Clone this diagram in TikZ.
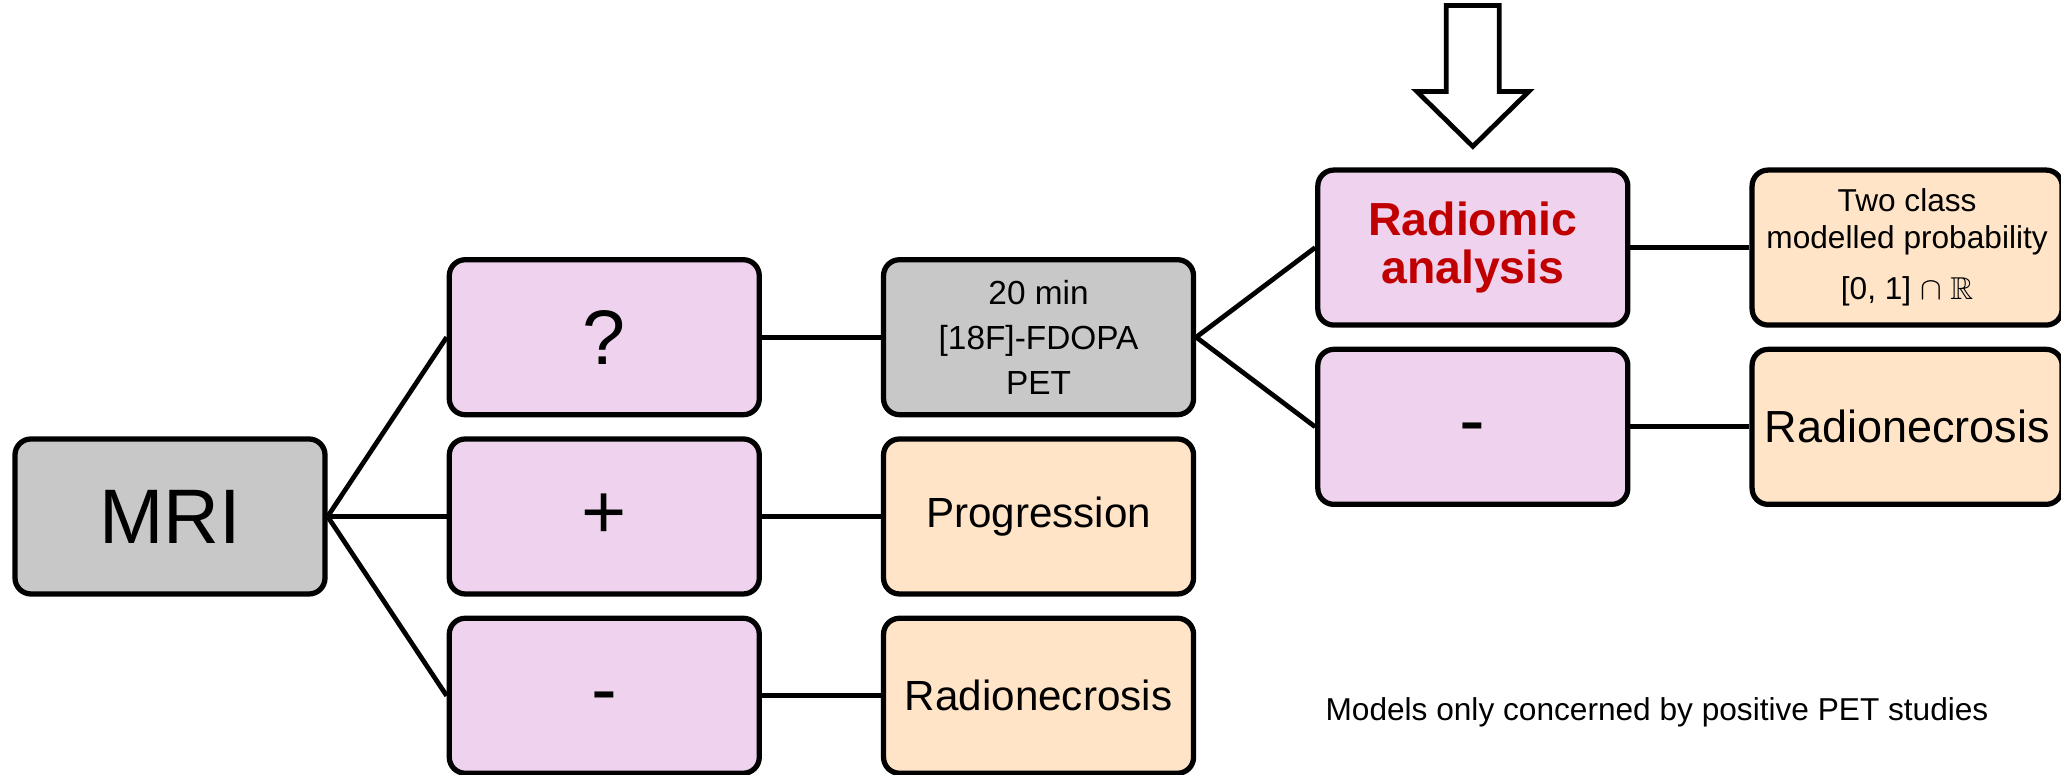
\documentclass[tikz,border=0pt]{standalone}
\usepackage{fontspec}
\setmainfont{Liberation Sans}
\usepackage{amsmath,amssymb}
\usetikzlibrary{positioning, calc}
\definecolor{mrigrey}{RGB}{200, 200, 200}
\definecolor{testpink}{RGB}{238, 210, 238}
\definecolor{outpeach}{RGB}{255, 228, 200}
\definecolor{radred}{RGB}{192, 0, 0}

\begin{document}
\begin{tikzpicture}[
    box/.style={draw=black, line width=1.5pt, rounded corners=0.16cm, minimum width=3.1cm, minimum height=1.55cm, align=center, inner sep=2pt},
    link/.style={line width=1.35pt, black},
    big/.style={font=\fontsize{22}{26}\selectfont},
    mid/.style={font=\fontsize{12}{14}\selectfont},
    small/.style={font=\fontsize{9.5}{12.8}\selectfont},
]
\useasboundingbox (0,0) rectangle (20.61,7.75);

% ===== MRI =====
\node[box, fill=mrigrey, big] (mri) at (1.70,2.585) {MRI};

% ===== MRI result =====
\node[box, fill=testpink, big, right=1.19cm of mri] (plus) {+};
\node[box, fill=testpink, big, above=0.19cm of plus] (question) {?};
\node[box, fill=testpink, big, below=0.19cm of plus] (minus) {\smash{\raisebox{-0.2cm}{-}}};

% ===== PET / outcomes =====
\node[box, fill=mrigrey, small, right=1.19cm of question] (pet) {20 min\\{[18F]-FDOPA}\\PET};
\node[box, fill=outpeach, mid, right=1.19cm of plus] (progress) {Progression};
\node[box, fill=outpeach, mid, right=1.19cm of minus] (necrosis) {Radionecrosis};

% ===== PET result =====
\node[box, fill=testpink, anchor=south west, text=radred, font=\fontsize{13.2}{13.5}\selectfont\bfseries] (radiomic) at ($(pet.east)+(1.19,0.095)$) {Radiomic\\analysis};
\node[box, fill=testpink, big, anchor=north west] (petminus) at ($(pet.east)+(1.19,-0.095)$) {\smash{\raisebox{-0.2cm}{-}}};

% ===== Model output =====
\node[box, fill=outpeach, font=\fontsize{9}{10.5}\selectfont, right=1.19cm of radiomic] (twoclass) {Two class\\modelled probability\\[4pt]{[0, 1]} $\cap$ $\mathbb{R}$};
\node[box, fill=outpeach, font=\fontsize{12.8}{15}\selectfont, right=1.19cm of petminus] (petnecrosis) {Radionecrosis};

% lignes
\draw[link] (mri.east) -- (question.west);
\draw[link] (mri.east) -- (plus.west);
\draw[link] (mri.east) -- (minus.west);
\draw[link] (question.east) -- (pet.west);
\draw[link] (plus.east) -- (progress.west);
\draw[link] (minus.east) -- (necrosis.west);
\draw[link] (pet.east) -- (radiomic.west);
\draw[link] (pet.east) -- (petminus.west);
\draw[link] (radiomic.east) -- (twoclass.west);
\draw[link] (petminus.east) -- (petnecrosis.west);

% ===== Focus arrow =====
\draw[line width=1.35pt, fill=white] ($(radiomic.north)+(0,0.21)$) -- ++(-0.56,0.55) -- ++(0.295,0) -- ++(0,0.86) -- ++(0.53,0) -- ++(0,-0.86) -- ++(0.295,0) -- cycle;

% ===== Note =====
\node[font=\fontsize{9}{11}\selectfont] (note) at (16.57,0.63) {Models only concerned by positive PET studies};

\end{tikzpicture}
\end{document}
